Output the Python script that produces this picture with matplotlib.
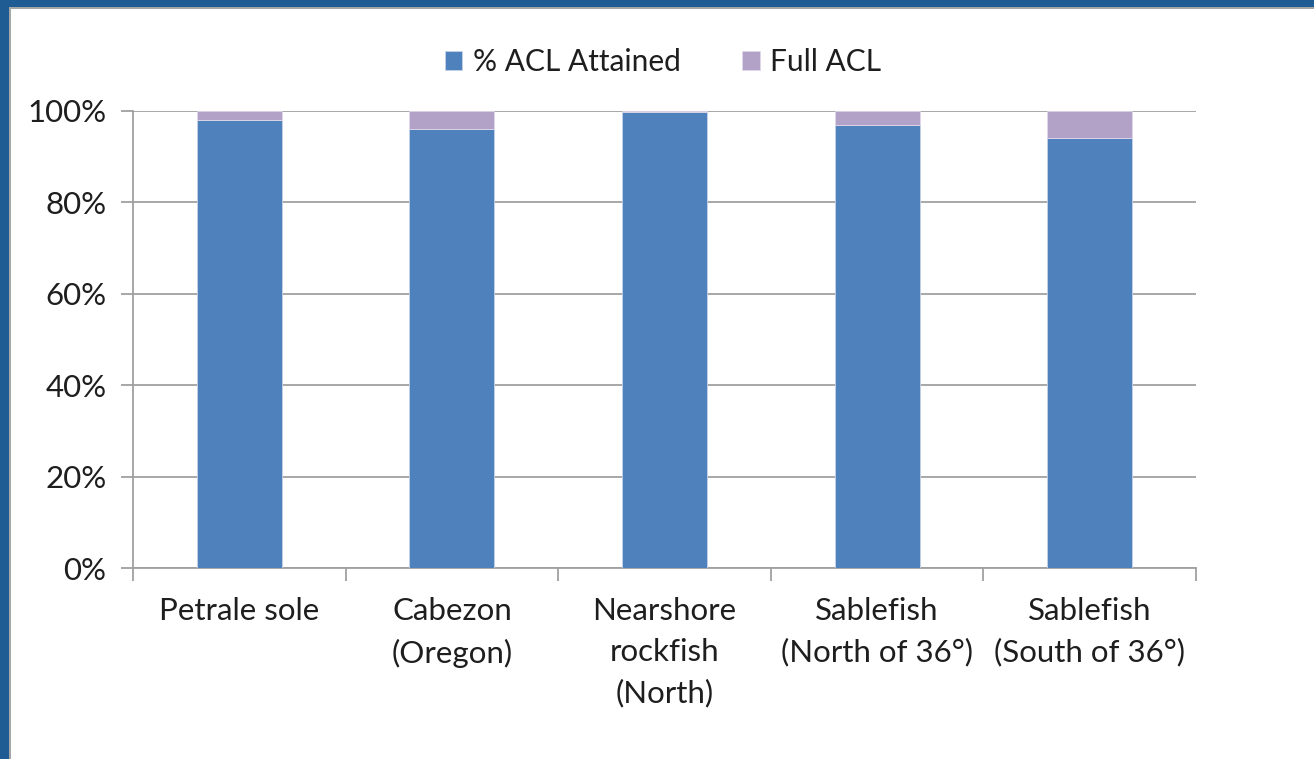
import matplotlib
matplotlib.use("Agg")
import matplotlib.pyplot as plt
from matplotlib.patches import Rectangle
from matplotlib.ticker import FixedLocator, FixedFormatter

categories = ["Petrale sole", "Cabezon\n(Oregon)", "Nearshore\nrockfish\n(North)",
              "Sablefish\n(North of 36°)", "Sablefish\n(South of 36°)"]
attained = [98.0, 96.0, 99.7, 97.0, 94.0]
full_acl = [100 - a for a in attained]
y_ticks = [0, 20, 40, 60, 80, 100]
y_labels = ["0%", "20%", "40%", "60%", "80%", "100%"]

BLUE = "#4F81BD"
PURPLE = "#B3A2C7"
GRID = "#A0A0A0"
TEXT = "#1E1E1E"
FS = 22.5

plt.rcParams["font.family"] = ["Lato", "DejaVu Sans"]

W, H = 1314, 759
fig = plt.figure(figsize=(W / 100, H / 100), dpi=100)
fig.patch.set_facecolor("white")

# slide frame: dark blue band on top and left with a thin grey inner line
fig.patches.append(Rectangle((0, 1 - 7 / H), 1, 7 / H, transform=fig.transFigure,
                             facecolor="#1F5C93", edgecolor="none", zorder=0))
fig.patches.append(Rectangle((0, 0), 9 / W, 1, transform=fig.transFigure,
                             facecolor="#1F5C93", edgecolor="none", zorder=0))
fig.patches.append(Rectangle((9 / W, 1 - 9 / H), 1 - 9 / W, 2 / H, transform=fig.transFigure,
                             facecolor="#A6A6A6", edgecolor="none", zorder=0))
fig.patches.append(Rectangle((9 / W, 0), 2 / W, 1 - 7 / H, transform=fig.transFigure,
                             facecolor="#A6A6A6", edgecolor="none", zorder=0))

ax = fig.add_axes([133 / W, 1 - 568 / H, (1196 - 133) / W, (568 - 111) / H])
x = list(range(len(categories)))
b1 = ax.bar(x, attained, width=0.4, color=BLUE, edgecolor="#C5D3E8", linewidth=0.6,
            label="% ACL Attained", zorder=3)
b2 = ax.bar(x, full_acl, bottom=attained, width=0.4, color=PURPLE, edgecolor="#E0D8EA",
            linewidth=0.6, label="Full ACL", zorder=3)

ax.set_xlim(-0.5, len(categories) - 0.5)
ax.set_ylim(0, 100)
ax.yaxis.set_major_locator(FixedLocator(y_ticks))
ax.yaxis.set_major_formatter(FixedFormatter(y_labels))
ax.grid(axis="y", color=GRID, linewidth=1.3, zorder=0)
ax.set_axisbelow(True)

for s in ["top", "right"]:
    ax.spines[s].set_visible(False)
ax.spines["left"].set_color(GRID)
ax.spines["bottom"].set_color(GRID)
ax.spines["left"].set_linewidth(1.3)
ax.spines["bottom"].set_linewidth(1.3)

# category labels between boundary ticks
ax.set_xticks([i - 0.5 for i in range(len(categories) + 1)])
ax.set_xticklabels([])
ax.set_xticks(x, minor=True)
ax.set_xticklabels(categories, minor=True, fontsize=FS, color=TEXT,
                   linespacing=1.55, va="top")
ax.tick_params(axis="x", which="major", length=9, width=1.3, color=GRID)
ax.tick_params(axis="x", which="minor", length=0, pad=21)
ax.tick_params(axis="y", length=9, width=1.3, color=GRID, labelsize=FS,
               labelcolor=TEXT, pad=10)

leg = fig.legend(handles=[b1, b2], loc="center", bbox_to_anchor=(663 / W, 1 - 62 / H),
                 ncol=2, frameon=False, fontsize=21.5, handlelength=0.6, handleheight=0.6,
                 handletextpad=0.35, columnspacing=2.05)
for t in leg.get_texts():
    t.set_color(TEXT)

fig.savefig("out.png", dpi=100)
